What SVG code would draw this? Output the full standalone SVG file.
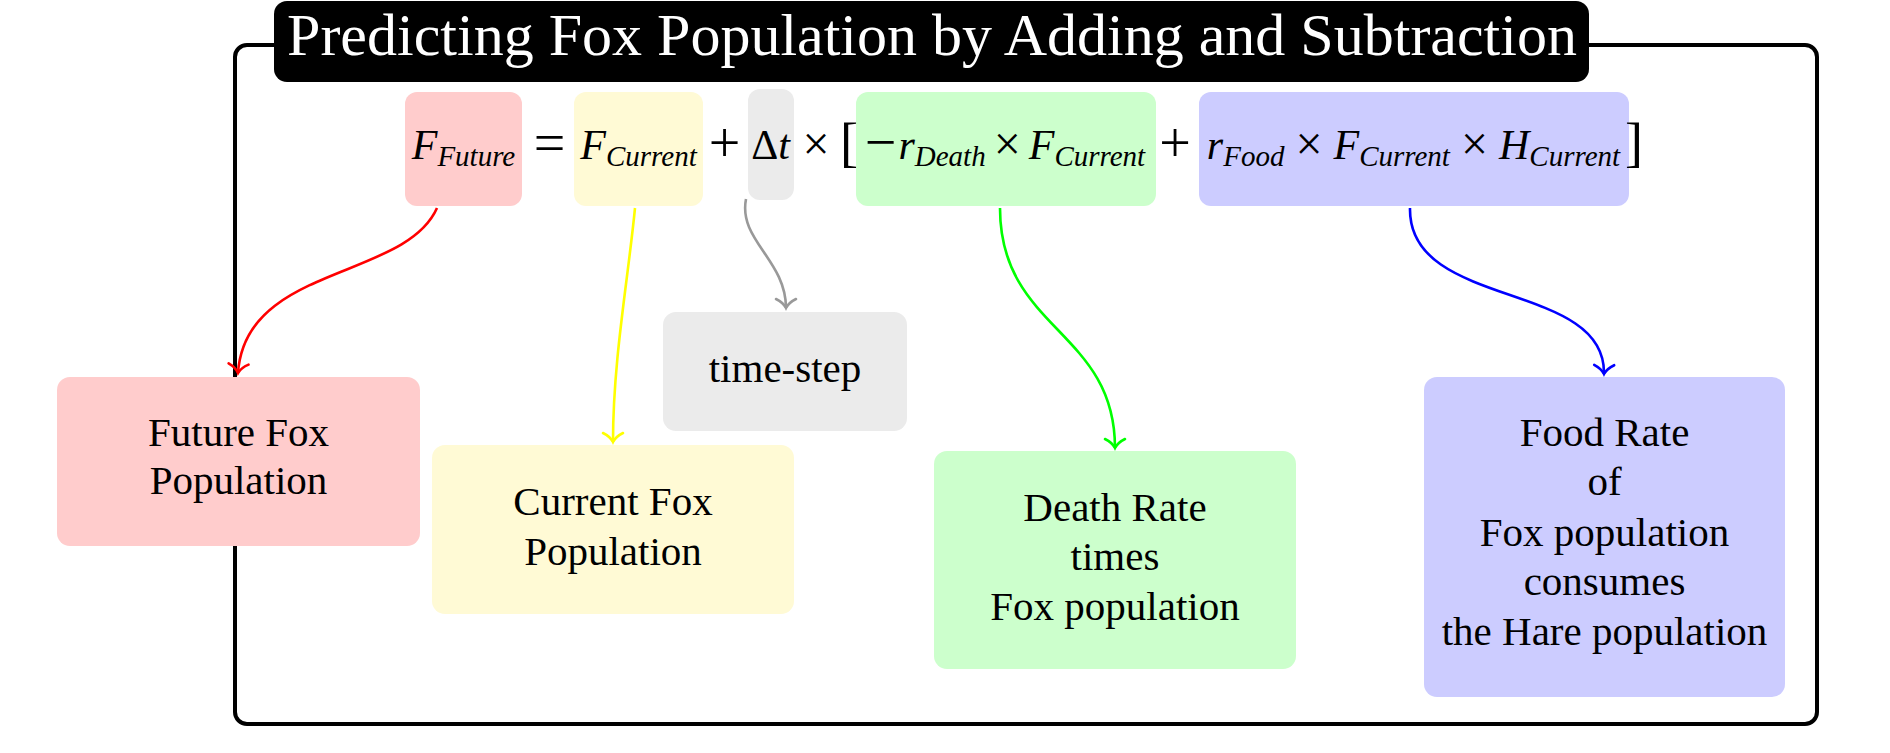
<svg xmlns="http://www.w3.org/2000/svg" width="1890" height="753" viewBox="0 0 1890 753">
<style>
text{font-family:"Liberation Serif","Times New Roman",serif;fill:#000}
.title{font-size:60px;fill:#fff}
.lbl{font-size:41px;text-anchor:middle}
.math{font-size:42px}
.op{font-size:56px}
.x{font-size:48px}
.br{font-size:54px}
.it{font-style:italic}
.sub{font-size:29px;font-style:italic}
.conn path{fill:none;stroke-width:2.6}
.red{fill:#ffcccc}.yel{fill:#fffad5}.gry{fill:#ebebeb}.grn{fill:#ccffcc}.blu{fill:#ccccff}
</style>
<defs>
<marker id="aR" markerUnits="userSpaceOnUse" orient="auto" refX="0" refY="0" markerWidth="20" markerHeight="24" overflow="visible"><path d="M-9,-10 C-6,-4 -2,-1 0,0 C-2,1 -6,4 -9,10" fill="none" stroke="#ff0000" stroke-width="2.6" stroke-linecap="round"/></marker>
<marker id="aY" markerUnits="userSpaceOnUse" orient="auto" refX="0" refY="0" markerWidth="20" markerHeight="24" overflow="visible"><path d="M-9,-10 C-6,-4 -2,-1 0,0 C-2,1 -6,4 -9,10" fill="none" stroke="#ffff00" stroke-width="2.6" stroke-linecap="round"/></marker>
<marker id="aG" markerUnits="userSpaceOnUse" orient="auto" refX="0" refY="0" markerWidth="20" markerHeight="24" overflow="visible"><path d="M-9,-10 C-6,-4 -2,-1 0,0 C-2,1 -6,4 -9,10" fill="none" stroke="#999999" stroke-width="2.6" stroke-linecap="round"/></marker>
<marker id="aN" markerUnits="userSpaceOnUse" orient="auto" refX="0" refY="0" markerWidth="20" markerHeight="24" overflow="visible"><path d="M-9,-10 C-6,-4 -2,-1 0,0 C-2,1 -6,4 -9,10" fill="none" stroke="#00ff00" stroke-width="2.6" stroke-linecap="round"/></marker>
<marker id="aB" markerUnits="userSpaceOnUse" orient="auto" refX="0" refY="0" markerWidth="20" markerHeight="24" overflow="visible"><path d="M-9,-10 C-6,-4 -2,-1 0,0 C-2,1 -6,4 -9,10" fill="none" stroke="#0000ff" stroke-width="2.6" stroke-linecap="round"/></marker>
</defs>
<rect width="1890" height="753" fill="#fff"/>
<g id="frame"><rect x="235" y="45" width="1582" height="679" rx="12" fill="none" stroke="#000" stroke-width="4"/></g>
<g id="title"><rect x="274" y="1" width="1315" height="81" rx="13" fill="#000"/><text class="title" x="932" y="55" text-anchor="middle">Predicting Fox Population by Adding and Subtraction</text></g>
<g id="equation">
<rect class="red" x="405" y="92" width="117" height="114" rx="12"/>
<rect class="yel" x="574" y="92" width="129" height="114" rx="12"/>
<rect class="gry" x="748" y="89" width="46" height="111" rx="12"/>
<rect class="grn" x="856" y="92" width="300" height="114" rx="12"/>
<rect class="blu" x="1199" y="92" width="430" height="114" rx="12"/>
<text class="math" x="463.5" y="159" text-anchor="middle"><tspan class="it">F</tspan><tspan class="sub" dy="7">Future</tspan></text>
<text class="op" x="549.5" y="162" text-anchor="middle">=</text>
<text class="math" x="638.5" y="159" text-anchor="middle"><tspan class="it">F</tspan><tspan class="sub" dy="7">Current</tspan></text>
<text class="op" x="724.5" y="162" text-anchor="middle">+</text>
<text class="math" x="770.5" y="159" text-anchor="middle">Δ<tspan class="it">t</tspan></text>
<text class="x" x="816" y="160" text-anchor="middle">×</text>
<text class="br" x="849" y="161" text-anchor="middle">[</text>
<text class="math" x="1005" y="159" text-anchor="middle"><tspan class="op" dy="2">−</tspan><tspan class="it" dx="2" dy="-2">r</tspan><tspan class="sub" dy="7">Death</tspan><tspan class="x" dy="-6" dx="8">×</tspan><tspan class="it" dx="8" dy="-1">F</tspan><tspan class="sub" dy="7">Current</tspan></text>
<text class="op" x="1175" y="162" text-anchor="middle">+</text>
<text class="math" x="1413.5" y="159" text-anchor="middle"><tspan class="it">r</tspan><tspan class="sub" dy="7">Food</tspan><tspan class="x" dy="-6" dx="11">×</tspan><tspan class="it" dx="11" dy="-1">F</tspan><tspan class="sub" dy="7">Current</tspan><tspan class="x" dy="-6" dx="11">×</tspan><tspan class="it" dx="11" dy="-1">H</tspan><tspan class="sub" dy="7">Current</tspan></text>
<text class="br" x="1634" y="161" text-anchor="middle">]</text>
</g>
<g id="future"><rect class="red" x="57" y="377" width="363" height="169" rx="13"/><text class="lbl" x="238.5" y="446">Future Fox</text><text class="lbl" x="238.5" y="494">Population</text></g>
<g id="current"><rect class="yel" x="432" y="445" width="362" height="169" rx="13"/><text class="lbl" x="613" y="515">Current Fox</text><text class="lbl" x="613" y="565">Population</text></g>
<g id="timestep"><rect class="gry" x="663" y="312" width="244" height="119" rx="13"/><text class="lbl" x="785" y="382">time-step</text></g>
<g id="death"><rect class="grn" x="934" y="451" width="362" height="218" rx="13"/><text class="lbl" x="1115" y="521">Death Rate</text><text class="lbl" x="1115" y="570">times</text><text class="lbl" x="1115" y="620">Fox population</text></g>
<g id="food"><rect class="blu" x="1424" y="377" width="361" height="320" rx="13"/><text class="lbl" x="1604.5" y="446">Food Rate</text><text class="lbl" x="1604.5" y="495">of</text><text class="lbl" x="1604.5" y="546">Fox population</text><text class="lbl" x="1604.5" y="595">consumes</text><text class="lbl" x="1604.5" y="645">the Hare population</text></g>
<g id="connectors" class="conn">
<path d="M437,208 C405,280 245,265 238,373" stroke="#ff0000" marker-end="url(#aR)"/>
<path d="M635,208 C628,280 613,360 613,442" stroke="#ffff00" marker-end="url(#aY)"/>
<path d="M746,199 C738,240 786,260 786,308" stroke="#999999" marker-end="url(#aG)"/>
<path d="M1000,208 C1000,330 1115,330 1115,448" stroke="#00ff00" marker-end="url(#aN)"/>
<path d="M1410,208 C1408,310 1606,280 1604,374" stroke="#0000ff" marker-end="url(#aB)"/>
</g>
</svg>
